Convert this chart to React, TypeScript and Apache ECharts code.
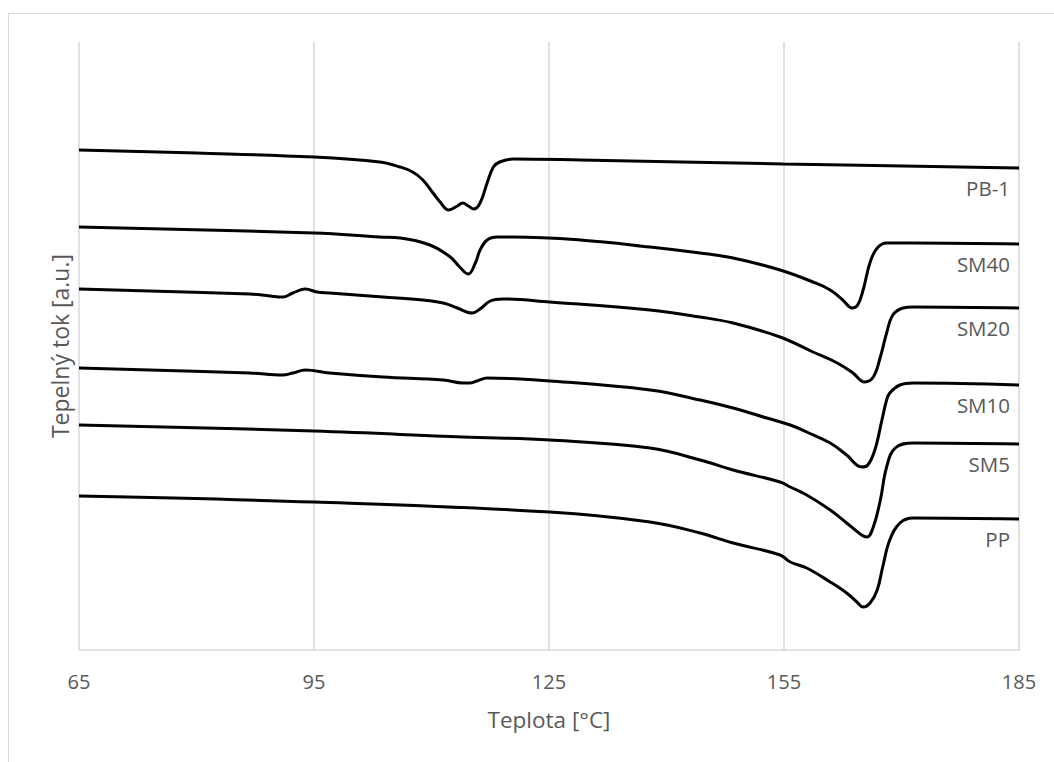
import { useEffect, useRef } from "react";
import * as echarts from "echarts";

// Temperature axis (°C)
const xMin = 65;
const xMax = 185;
const xStep = 30;

// DSC traces: [temperature °C, heat flow a.u.] (curves are offset vertically)
const pb1: [number, number][] = [
  [65, 500], [80, 497], [95, 493], [103.4, 488], [106, 483], [107.6, 478],
  [108.9, 470], [110.2, 457], [111.1, 448], [112.2, 440], [113.3, 444],
  [114.0, 447], [114.7, 444], [115.4, 441], [116.2, 447], [117.1, 467],
  [117.9, 483], [118.7, 488], [120.4, 491], [129, 490], [154.9, 486], [185, 482],
];

const sm40: [number, number][] = [
  [65, 423], [95, 417], [103.4, 413], [106, 412], [109.8, 405], [112.4, 393],
  [113.6, 383], [114.7, 376], [115.6, 387], [116.2, 400], [117.1, 410],
  [118.4, 413], [120.4, 413], [129, 410], [137.9, 403], [144.3, 397],
  [148.5, 392], [154.5, 380], [158.7, 368], [160.9, 360], [162.5, 350],
  [163.7, 342], [164.4, 345], [165.1, 360], [166.0, 388], [166.9, 402],
  [168.1, 407], [171.5, 407], [185, 406],
];

const sm20: [number, number][] = [
  [65, 361], [86.8, 356], [89.4, 354], [91, 353], [92.3, 357], [93.9, 361],
  [95.4, 358], [97, 357], [103.8, 353], [108.9, 350], [111.5, 347],
  [113.3, 342], [115.2, 337], [116.2, 341], [117.5, 349], [119.1, 351],
  [125.1, 348], [137.9, 340], [144.3, 333], [148.5, 327], [154.5, 313],
  [158.7, 298], [161.8, 287], [163.8, 277], [165.3, 268], [166.4, 273],
  [167.3, 293], [168.1, 317], [168.9, 335], [170.2, 342], [171.5, 343], [185, 342],
];

const sm10: [number, number][] = [
  [65, 282], [86.8, 277], [91, 275], [92.3, 277], [93.9, 280], [97, 277],
  [103.8, 273], [111.5, 270], [114, 267], [114.9, 267], [115.8, 269],
  [117.1, 272], [125.1, 269], [137.9, 260], [144.3, 250], [148.5, 242],
  [152.8, 232], [155.8, 225], [157.9, 218], [160.9, 207], [163, 195],
  [164.9, 183], [165.7, 185], [166.6, 200], [167.5, 230], [168.1, 250],
  [168.5, 257], [169.8, 265], [171.5, 267], [185, 265],
];

const sm5: [number, number][] = [
  [65, 225], [95, 219], [114, 213], [125.1, 210], [137.9, 202], [144.3, 190],
  [148.5, 180], [154.5, 168], [155.8, 163], [157.9, 155], [160.9, 140],
  [163, 127], [164.9, 115], [165.6, 113], [166.4, 123], [167.3, 150],
  [168.1, 183], [169.2, 202], [171.5, 207], [185, 206],
];

const pp: [number, number][] = [
  [65, 154], [95, 148], [125.1, 138], [137.9, 128], [144.3, 117], [148.5, 107],
  [154.5, 95], [155.8, 88], [157.9, 82], [160.9, 68], [163, 57], [164.3, 48],
  [165.1, 43], [166, 47], [166.9, 60], [167.6, 83], [168.5, 110], [169.8, 127],
  [171.5, 132], [185, 131],
];

const seriesNames = ["PB-1", "SM40", "SM20", "SM10", "SM5", "PP"];
const seriesData = [pb1, sm40, sm20, sm10, sm5, pp];

const FONT = "'Open Sans', 'Noto Sans', sans-serif";
const TEXT = "#595959";
const GRID = "#d9d9d9";

export default function App() {
  const ref = useRef<HTMLDivElement>(null);

  useEffect(() => {
    if (!ref.current) return;
    const chart = echarts.init(ref.current, undefined, { renderer: "svg" });

    const series = seriesNames.map((name, i) => {
      const data = seriesData[i];
      const last = data[data.length - 1];
      return {
        name,
        type: "line",
        data,
        smooth: 0.4,
        symbol: "none",
        lineStyle: { color: "#000", width: 3 },
        markPoint: {
          symbol: "circle",
          symbolSize: 0,
          silent: true,
          data: [{ coord: last }],
          label: {
            show: true,
            formatter: name,
            position: "left",
            offset: [-4, 20],
            fontSize: 20.5,
            fontFamily: FONT,
            color: TEXT,
          },
        },
      };
    });

    chart.setOption({
      animation: false,
      backgroundColor: "#fff",
      graphic: [
        {
          type: "rect",
          shape: { x: 8.5, y: 13.5, width: 1050, height: 760 },
          style: { fill: "none", stroke: GRID, lineWidth: 1 },
          silent: true,
        },
      ],
      grid: { left: 79, right: 35, top: 42, bottom: 112 },
      xAxis: {
        type: "value",
        min: xMin,
        max: xMax,
        interval: xStep,
        name: "Teplota [°C]",
        nameLocation: "middle",
        nameGap: 58,
        nameTextStyle: { fontSize: 22.5, fontFamily: FONT, color: TEXT },
        axisLine: { show: true, lineStyle: { color: GRID, width: 1.5 } },
        axisTick: { show: false },
        axisLabel: { fontSize: 20, fontFamily: FONT, color: TEXT, margin: 21 },
        splitLine: { show: true, lineStyle: { color: GRID, width: 1.5 } },
      },
      yAxis: {
        type: "value",
        min: 0,
        max: 608,
        name: "Tepelný tok [a.u.]",
        nameLocation: "middle",
        nameRotate: 90,
        nameGap: 8,
        nameTextStyle: { fontSize: 23, fontFamily: FONT, color: TEXT },
        axisLine: { show: false },
        axisTick: { show: false },
        axisLabel: { show: false },
        splitLine: { show: false },
      },
      series,
    });

    return () => chart.dispose();
  }, []);

  return (
    <div
      ref={ref}
      style={{ position: "fixed", left: 0, top: 0, width: 1054, height: 762 }}
    />
  );
}
